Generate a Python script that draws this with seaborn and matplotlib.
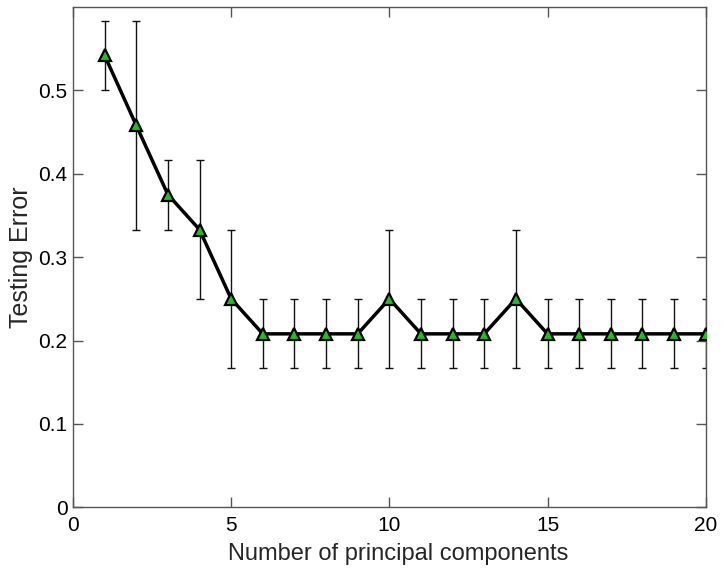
import matplotlib
matplotlib.use("Agg")
import matplotlib.pyplot as plt
import seaborn as sns
import numpy as np
import pandas as pd

n_components = list(range(1, 21))
mean_error = [0.542, 0.458, 0.375, 0.333, 0.25, 0.208, 0.208, 0.208, 0.208, 0.25,
              0.208, 0.208, 0.208, 0.25, 0.208, 0.208, 0.208, 0.208, 0.208, 0.208]
err_low = [0.5, 0.333, 0.333, 0.25, 0.167, 0.167, 0.167, 0.167, 0.167, 0.167,
           0.167, 0.167, 0.167, 0.167, 0.167, 0.167, 0.167, 0.167, 0.167, 0.167]
err_high = [0.583, 0.583, 0.417, 0.417, 0.333, 0.25, 0.25, 0.25, 0.25, 0.333,
            0.25, 0.25, 0.25, 0.333, 0.25, 0.25, 0.25, 0.25, 0.25, 0.25]

df = pd.DataFrame({"n": n_components, "err": mean_error})

sns.set_style("ticks")
plt.rcParams["font.family"] = ["Liberation Sans", "DejaVu Sans"]

fig = plt.figure(figsize=(7.24, 5.77), dpi=100)
ax = fig.add_axes([0.1008, 0.1208, 0.8739, 0.8671])

m = np.array(mean_error)
yerr = np.vstack([m - np.array(err_low), np.array(err_high) - m])
ax.errorbar(n_components, mean_error, yerr=yerr, fmt="none", ecolor="#111111",
            elinewidth=1.0, capsize=2.8, capthick=1.0, zorder=2)

sns.lineplot(data=df, x="n", y="err", ax=ax, color="black", linewidth=2.5,
             marker="^", markersize=9, markerfacecolor="#1ec21e",
             markeredgecolor="black", markeredgewidth=1.6, zorder=3)

ax.set_xlim(0, 20)
ax.set_ylim(0, 0.6)
ax.set_xticks([0, 5, 10, 15, 20])
ax.set_yticks([0, 0.1, 0.2, 0.3, 0.4, 0.5])
ax.set_yticklabels(["0", "0.1", "0.2", "0.3", "0.4", "0.5"])
ax.set_xlabel("Number of principal components", fontsize=17, labelpad=6, x=0.514)
ax.set_ylabel("Testing Error", fontsize=18, labelpad=4)

for s in ax.spines.values():
    s.set_visible(True)
    s.set_color("#555555")
    s.set_linewidth(1.0)
ax.tick_params(direction="in", length=7, width=1, color="#555555",
               labelsize=15, labelcolor="black", top=True, right=True)
ax.tick_params(axis="y", pad=4)
ax.tick_params(axis="x", pad=6)

fig.savefig("out.png", dpi=100)
